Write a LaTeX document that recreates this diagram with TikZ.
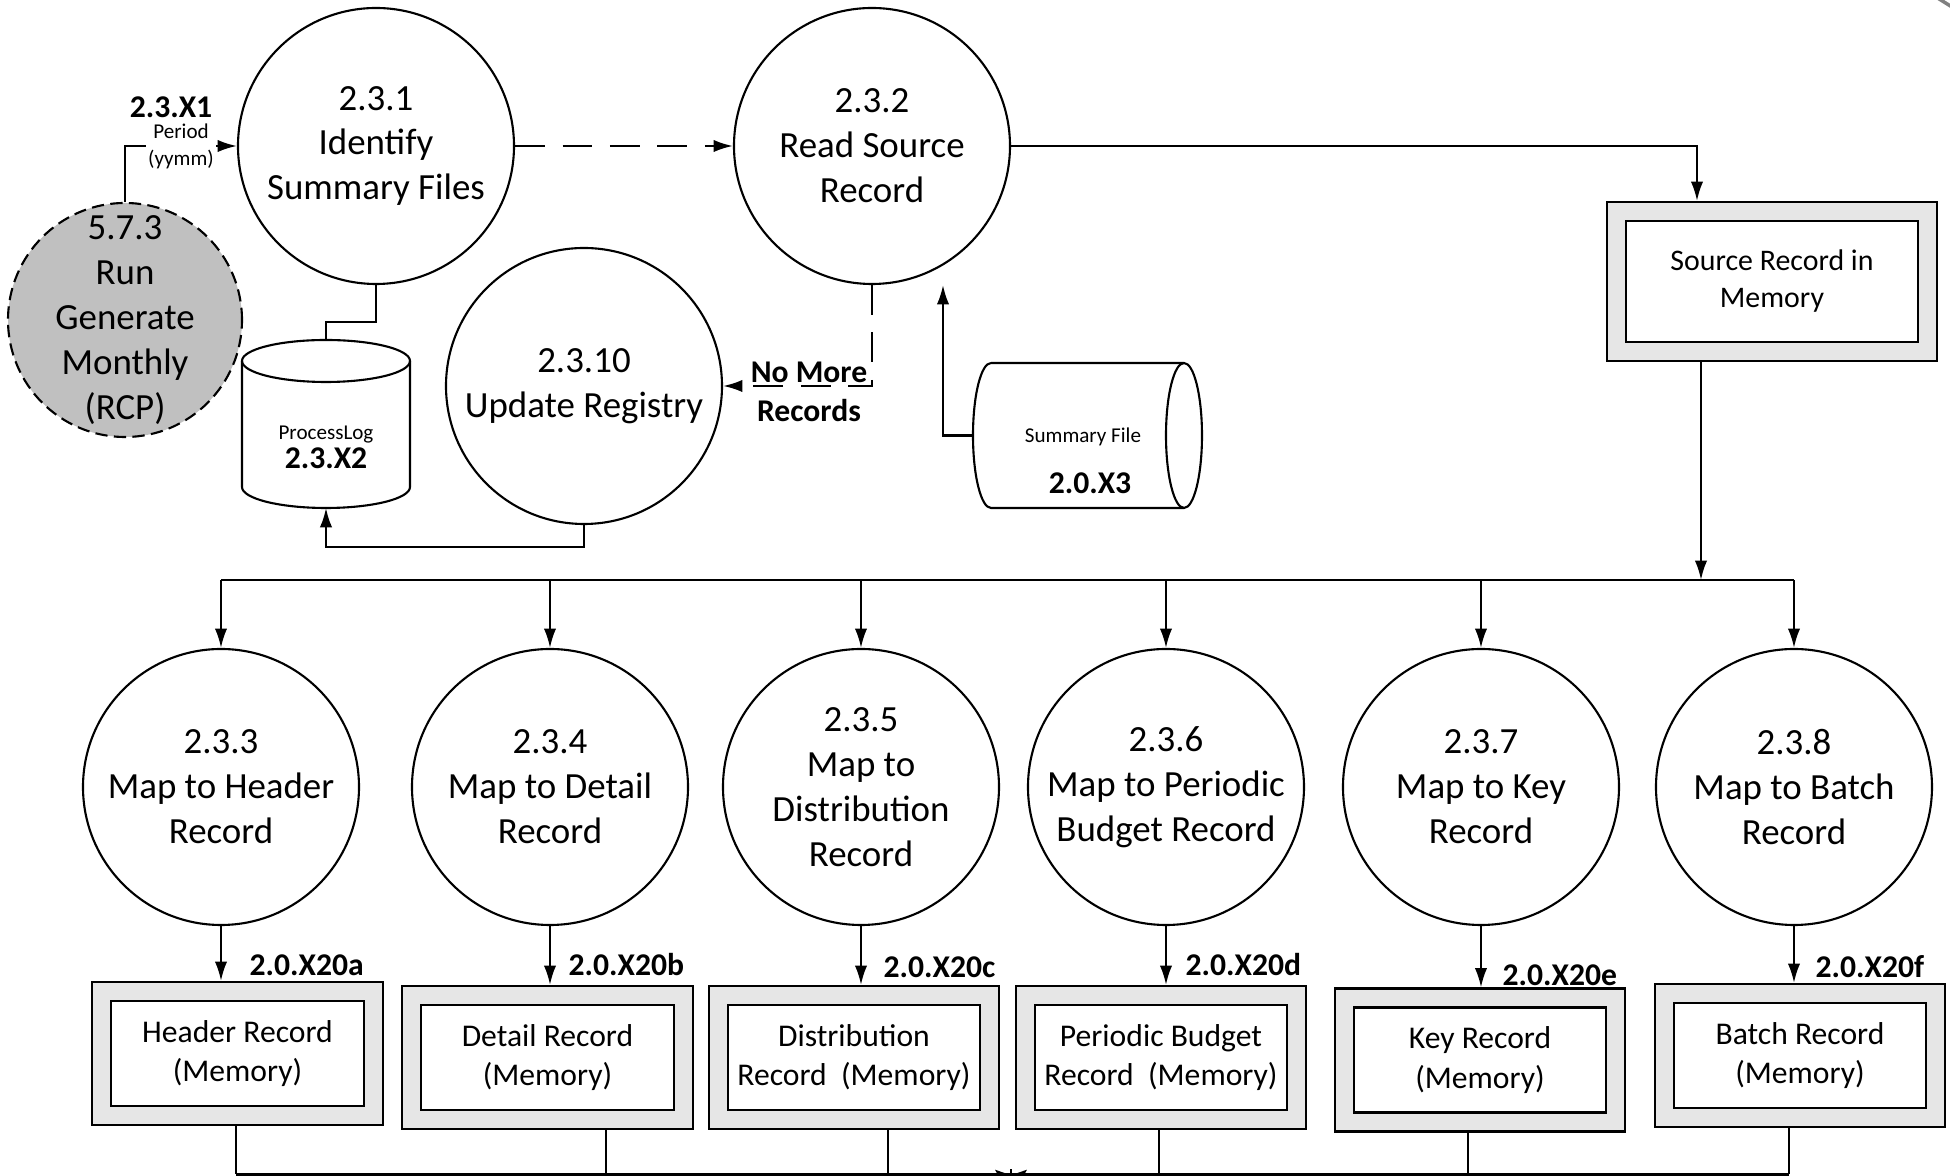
\documentclass[tikz,border=0pt]{standalone}
\usepackage{fontspec}
\setmainfont{Carlito}
\usepackage{tikz}
\usetikzlibrary{arrows.meta}
\definecolor{extgray}{HTML}{C0C0C0}
\definecolor{storegray}{HTML}{E6E6E6}
\tikzstyle{proc}=[circle, draw, line width=0.6pt, minimum size=2.76cm, inner sep=0pt, align=center, font=\fontsize{10.5}{12.8}\selectfont]
\tikzstyle{extproc}=[proc, fill=extgray, minimum size=2.34cm, inner sep=-4pt, dash pattern=on 3.5pt off 1.8pt]
\tikzstyle{store}=[rectangle, draw, line width=0.6pt, double=storegray, double distance=4.8pt, fill=white, outer sep=3pt, align=center, minimum width=2.715cm, minimum height=1.24cm, font=\fontsize{9}{11.3}\selectfont]
\tikzstyle{holder}=[rectangle, inner sep=0pt, outer sep=0pt]
\tikzstyle{flowid}=[inner sep=0pt, font=\fontsize{9}{11}\selectfont\bfseries]
\tikzstyle{flowsmall}=[inner sep=0.5pt, align=center, font=\fontsize{6}{7.6}\selectfont]
\tikzstyle{flow}=[line width=0.6pt, ->, >={Latex[length=5.5pt,width=3.5pt]}]
\tikzstyle{loopflow}=[flow, dash pattern=on 8.5pt off 5pt]

\begin{document}
\begin{tikzpicture}
	\useasboundingbox (0,0) rectangle (19.5,-11.76);
	\clip (0,0) rectangle (19.5,-11.76);
	\begin{scope}
		\node (c573) at (1.25, -3.20) [extproc] {5.7.3\\Run\\Generate\\Monthly\\(RCP)};
		\node (c231) at (3.76, -1.46) [proc] {2.3.1\\Identify\\Summary Files};
		\node (c232) at (8.72, -1.46) [proc] {2.3.2\\Read Source\\Record};
		\node (c2310) at (5.84, -3.86) [proc] {2.3.10\\Update Registry};
		\node (src) at (17.72, -2.815) [store, minimum width=3.11cm, minimum height=1.40cm, font=\fontsize{8.5}{10.5}\selectfont] {Source Record in\\Memory};

		\node (plog) at (3.26, -4.24) [holder, minimum width=1.68cm, minimum height=1.68cm] {};
		\node (plogname) at (3.26, -4.35) [flowsmall, inner sep=0pt] {ProcessLog};
		\node (plogid) at (3.26, -4.58) [flowid] {2.3.X2};

		\node (sumfile) at (10.875, -4.355) [holder, minimum width=2.29cm, minimum height=1.45cm] {};
		\node (sumname) at (10.83, -4.37) [flowsmall, inner sep=0pt] {Summary File};
		\node (sumid) at (10.90, -4.83) [flowid] {2.0.X3};

		\node (c233) at (2.21, -7.87) [proc] {2.3.3\\Map to Header\\Record};
		\node (c234) at (5.50, -7.87) [proc] {2.3.4\\Map to Detail\\Record};
		\node (c235) at (8.61, -7.87) [proc] {2.3.5\\Map to\\Distribution\\Record};
		\node (c236) at (11.66, -7.87) [proc] {2.3.6\\Map to Periodic\\Budget Record};
		\node (c237) at (14.81, -7.87) [proc] {2.3.7\\Map to Key\\Record};
		\node (c238) at (17.94, -7.87) [proc] {2.3.8\\Map to Batch\\Record};

		\node (hdr) at (2.375, -10.535) [store] {Header Record\\(Memory)};
		\node (det) at (5.475, -10.575) [store] {Detail Record\\(Memory)};
		\node (dst) at (8.54, -10.575) [store] {Distribution\\Record\ \ (Memory)};
		\node (pbr) at (11.61, -10.575) [store] {Periodic Budget\\Record\ \ (Memory)};
		\node (key) at (14.80, -10.60) [store] {Key Record\\(Memory)};
		\node (bat) at (18.00, -10.555) [store] {Batch Record\\(Memory)};

		\coordinate (bus) at (0, -5.80);
		\coordinate (bot) at (0, -11.745);
		\coordinate (botout) at (10.11, -11.98);
	\end{scope}

	% stores drawn round their holders
	\draw [line width=0.6pt] ([yshift=-0.21cm]plog.north west) -- ([yshift=0.21cm]plog.south west)
		arc [start angle=180, end angle=360, x radius=0.84cm, y radius=0.21cm] -- ([yshift=-0.21cm]plog.north east);
	\draw [line width=0.6pt] ([yshift=-0.21cm]plog.north) ellipse [x radius=0.84cm, y radius=0.21cm];
	\draw [line width=0.6pt] ([xshift=0.18cm]sumfile.north west) -- ([xshift=-0.18cm]sumfile.north east)
		arc [start angle=90, end angle=-90, x radius=0.18cm, y radius=0.725cm] -- ([xshift=0.18cm]sumfile.south west)
		arc [start angle=270, end angle=90, x radius=0.18cm, y radius=0.725cm];
	\draw [line width=0.6pt] ([xshift=-0.18cm]sumfile.north east) arc [start angle=90, end angle=270, x radius=0.18cm, y radius=0.725cm];

	\begin{scope}
		\draw [flow] (c573.north) |- (c231.west);
		\draw [loopflow] (c231.east) -- (c232.west);
		\draw [line width=0.6pt] (c231.south) -- ++(0, -0.37) -| (plog.north);
		\draw [flow] (c2310.south) -- ++(0, -0.22) -| (plog.south);
		\draw [loopflow] (c232.south) |- (c2310.east);
		\draw [flow] (sumfile.west) -| ([xshift=0.71cm]c232.south);
		\draw [flow] (c232.east) -| ([xshift=-0.75cm]src.north);
		\draw [flow] ([xshift=-0.71cm]src.south) -- ([xshift=-0.71cm]src.south |- bus);

		\draw [line width=0.6pt] (c233 |- bus) -- (c238 |- bus);
		\draw [flow] (c233 |- bus) -- (c233.north);
		\draw [flow] (c234 |- bus) -- (c234.north);
		\draw [flow] (c235 |- bus) -- (c235.north);
		\draw [flow] (c236 |- bus) -- (c236.north);
		\draw [flow] (c237 |- bus) -- (c237.north);
		\draw [flow] (c238 |- bus) -- (c238.north);

		\draw [flow] (c233.south) -- (c233.south |- hdr.north);
		\draw [flow] (c234.south) -- (c234.south |- det.north);
		\draw [flow] (c235.south) -- (c235.south |- dst.north);
		\draw [flow] (c236.south) -- (c236.south |- pbr.north);
		\draw [flow] (c237.south) -- (c237.south |- key.north);
		\draw [flow] (c238.south) -- (c238.south |- bat.north);

		\draw [line width=0.6pt] ([xshift=-0.015cm]hdr.south) -- ([xshift=-0.015cm]hdr.south |- bot);
		\draw [line width=0.6pt] ([xshift=0.585cm]det.south) -- ([xshift=0.585cm]det.south |- bot);
		\draw [line width=0.6pt] ([xshift=0.34cm]dst.south) -- ([xshift=0.34cm]dst.south |- bot);
		\draw [line width=0.6pt] ([xshift=-0.02cm]pbr.south) -- ([xshift=-0.02cm]pbr.south |- bot);
		\draw [line width=0.6pt] ([xshift=-0.12cm]key.south) -- ([xshift=-0.12cm]key.south |- bot);
		\draw [line width=0.6pt] ([xshift=-0.11cm]bat.south) -- ([xshift=-0.11cm]bat.south |- bot);
		\draw [line width=0.6pt] ([xshift=-0.015cm]hdr.south |- bot) -- ([xshift=-0.11cm]bat.south |- bot);
		\draw [line width=0.6pt, -{Stealth[length=8pt, width=9pt, inset=1.5pt]}] ([yshift=0.05cm]botout |- bot) -- (botout);
	\end{scope}

	% flow labels
	\node (x1) at (1.71, -1.07) [flowid] {2.3.X1};
	\node (x1txt) at (1.81, -1.465) [flowsmall, fill=white] {Period\\(yymm)};
	\node (nomore) at (8.09, -3.83) [flowid, anchor=base] {No More};
	\node (records) at (8.09, -4.22) [flowid, anchor=base] {Records};
	\node (x20a) at (2.49, -9.65) [flowid, anchor=west] {2.0.X20a};
	\node (x20b) at (5.68, -9.65) [flowid, anchor=west] {2.0.X20b};
	\node (x20c) at (8.83, -9.67) [flowid, anchor=west] {2.0.X20c};
	\node (x20d) at (11.85, -9.65) [flowid, anchor=west] {2.0.X20d};
	\node (x20e) at (15.02, -9.75) [flowid, anchor=west] {2.0.X20e};
	\node (x20f) at (18.15, -9.67) [flowid, anchor=west] {2.0.X20f};

	\draw [gray, line width=1pt] (19.36, 0.03) -- (19.52, -0.07);
\end{tikzpicture}
\end{document}
